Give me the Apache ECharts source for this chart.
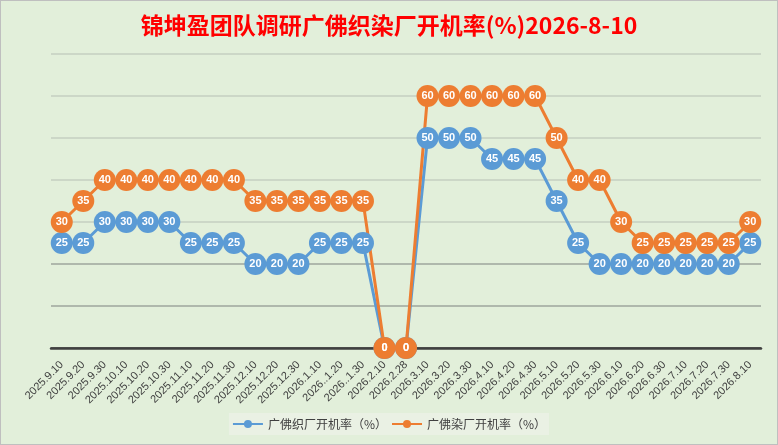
<html>
  <head>
    <meta charset="utf-8">
    <style>
      html, body { margin: 0; padding: 0; background: #E2EFDA; }
      #chart { width: 778px; height: 445px; box-sizing: border-box; border: 1px solid #BFBFBF; }
    </style>
  </head>
  <body>
    <div id="chart"></div>
  </body>
  <script src="https://cdn.jsdelivr.net/npm/echarts@6.0.0/dist/echarts.min.js"></script>
  <script>

var dates = [
  '2025.9.10', '2025.9.20', '2025.9.30', '2025.10.10', '2025.10.20', '2025.10.30',
  '2025.11.10', '2025.11.20', '2025.11.30', '2025.12.10', '2025.12.20', '2025.12.30',
  '2026.1.10', '2026..1.20', '2026..1.30', '2026.2.10', '2026.2.28', '2026.3.10',
  '2026.3.20', '2026.3.30', '2026.4.10', '2026.4.20', '2026.4.30', '2026.5.10',
  '2026.5.20', '2026.5.30', '2026.6.10', '2026.6.20', '2026.6.30', '2026.7.10',
  '2026.7.20', '2026.7.30', '2026.8.10'
];

// 广佛织厂开机率
var weaving = [25, 25, 30, 30, 30, 30, 25, 25, 25, 20, 20, 20, 25, 25, 25, 0, 0,
  50, 50, 50, 45, 45, 45, 35, 25, 20, 20, 20, 20, 20, 20, 20, 25];

// 广佛染厂开机率
var dyeing = [30, 35, 40, 40, 40, 40, 40, 40, 40, 35, 35, 35, 35, 35, 35, 0, 0,
  60, 60, 60, 60, 60, 60, 50, 40, 40, 30, 25, 25, 25, 25, 25, 30];

var seriesNames = ['广佛织厂开机率（%）', '广佛染厂开机率（%）'];
var titleText = '锦坤盈团队调研广佛织染厂开机率(%)2026-8-10';

function lineSeries(name, data, color) {
  return {
    name: name,
    type: 'line',
    data: data,
    symbol: 'circle',
    symbolSize: 22,
    lineStyle: { width: 3, color: color },
    itemStyle: { color: color },
    label: {
      show: true,
      position: 'inside',
      color: '#fff',
      fontSize: 11,
      fontWeight: 'bold',
      fontFamily: 'Liberation Sans'
    }
  };
}

var chart = echarts.init(document.getElementById('chart'));
chart.setOption({
  backgroundColor: '#E2EFDA',
  animation: false,
  title: {
    text: titleText,
    left: 'center',
    top: 8,
    textStyle: {
      color: '#FF0000',
      fontSize: 23,
      fontWeight: 'bold',
      fontFamily: 'Noto Sans CJK SC'
    }
  },
  grid: { left: 50, right: 16, top: 53, bottom: 96 },
  legend: {
    bottom: 9,
    left: 'center',
    backgroundColor: '#EAF1E4',
    padding: [5, 3],
    itemWidth: 30,
    itemHeight: 10,
    itemGap: 4,
    textStyle: { color: '#404040', fontSize: 12, fontFamily: 'Noto Sans CJK SC' },
    data: seriesNames
  },
  xAxis: {
    type: 'category',
    data: dates,
    boundaryGap: true,
    axisLine: { lineStyle: { color: '#404040', width: 2.5 } },
    axisTick: { show: false },
    axisLabel: {
      rotate: 45,
      interval: 0,
      color: '#404040',
      fontSize: 11,
      fontFamily: 'Liberation Sans',
      margin: 15
    }
  },
  yAxis: {
    type: 'value',
    min: 0,
    max: 70,
    interval: 10,
    axisLabel: { show: false },
    axisLine: { show: false },
    axisTick: { show: false },
    splitLine: {
      lineStyle: {
        color: ['#404040', '#9EA69C', '#9EA69C', '#C5CFC0', '#C5CFC0', '#C5CFC0', '#C5CFC0', '#C5CFC0'],
        width: 1.5
      }
    }
  },
  series: [
    lineSeries(seriesNames[0], weaving, '#5B9BD5'),
    lineSeries(seriesNames[1], dyeing, '#ED7D31')
  ]
});

  </script>
</html>
